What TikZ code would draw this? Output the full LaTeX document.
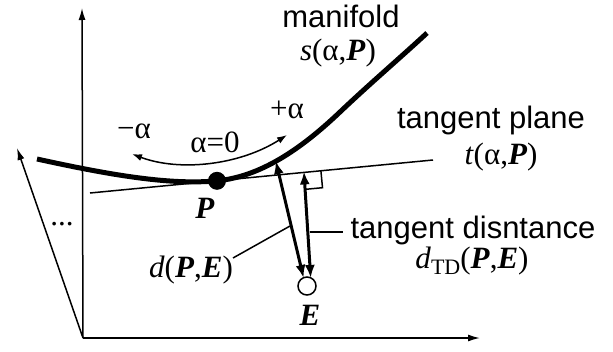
\documentclass[tikz,border=0pt]{standalone}
\usepackage{fontspec}
\setmainfont{Liberation Serif}
\newfontfamily\arialfont{Liberation Sans}
\usetikzlibrary{arrows.meta}
\newcommand\BI[1]{\textbf{\textit{#1}}}
\begin{document}
\begin{tikzpicture}[x=1pt,y=-1pt,
  serif/.style={font=\fontsize{31}{37}\selectfont, inner sep=0pt, anchor=base},
  sans/.style={font=\arialfont\fontsize{31}{37}\selectfont, inner sep=0pt, anchor=base},
  axis/.style={line width=1.5pt, -{Latex[length=12pt,width=7pt]}},
  thin/.style={line width=1.5pt},
  distarrow/.style={line width=3pt, {Latex[length=13pt,width=10pt]}-{Latex[length=13pt,width=10pt]}, shorten <=-1pt, shorten >=-1pt},
  alphaarc/.style={line width=1.5pt, {Latex[length=10pt,width=7pt]}-{Latex[length=10pt,width=7pt]}},
  manifoldline/.style={line width=5pt}]
\useasboundingbox (0,0) rectangle (613,351);
% axes
\coordinate (O) at (83,338);
\coordinate (Yend) at (82,8);
\coordinate (Xend) at (480,338);
\coordinate (Zend) at (17,148);
\draw[axis] (O) -- (Yend);
\draw[axis] (O) -- (Xend);
\draw[axis] (O) -- (Zend);
% tangent plane
\coordinate (T1) at (90,193);
\coordinate (T2) at (433,160);
\draw[thin] (T1) -- (T2);
% manifold
\coordinate (Pc) at (217,180.8);
\draw[manifoldline] (37,159) .. controls (110,175) and (170,185.3) .. (Pc)
  .. controls (260,176.7) and (300,150) .. (340,112)
  .. controls (370,83.5) and (400,58) .. (427,33);
\node[circle, fill=black, minimum size=18pt, inner sep=0pt] (P) at (Pc) {};
% alpha arc
\coordinate (A1) at (132,154);
\coordinate (A2) at (287,135);
\draw[alphaarc] (A1) .. controls (180,172) and (240,165) .. (A2);
% E
\node[circle, draw=black, line width=1.5pt, fill=white, minimum size=18pt, inner sep=0pt] (E) at (307,286) {};
\coordinate (M) at (276,162);
\coordinate (F) at (304,172.4);
\coordinate (RA) at (320.9,170.8);
\coordinate (RB) at (322.5,187.7);
\coordinate (RC) at (305.6,189.3);
\draw[thin] (RA) -- (RB) -- (RC);
\draw[distarrow] (M) -- (E.112);
\draw[distarrow] (F) -- (E.68);
% leaders
\coordinate (L1a) at (233,258);
\coordinate (L1b) at (290,226);
\draw[thin] (L1a) -- (L1b);
\coordinate (L2a) at (310,232);
\coordinate (L2b) at (343,232);
\draw[thin] (L2a) -- (L2b);
% labels
\node[sans] (tmanifold) at (341,27) {manifold};
\node[serif] (ts) at (338,60) {\textit{s}(α,\BI{P})};
\node[sans] (ttp) at (491,128) {tangent plane};
\node[serif] (tt) at (501,164) {\textit{t}(α,\BI{P})};
\node[sans] (ttd) at (473,238) {tangent disntance};
\node[serif] (tdtd) at (472,268) {\textit{d}\raisebox{-0.22em}{\fontsize{22}{26}\selectfont TD}(\BI{P},\BI{E})};
\node[serif] (td) at (191,277) {\textit{d}(\BI{P},\BI{E})};
\node[serif] (tP) at (205,218) {\BI{P}};
\node[serif] (tE) at (310,325) {\BI{E}};
\node[serif] (tdots) at (62,225) {...};
\node[serif] (tplus) at (287,118) {+α};
\node[serif] (tminus) at (134,138) {−α};
\node[serif] (tzero) at (215,152) {α=0};
\end{tikzpicture}
\end{document}
